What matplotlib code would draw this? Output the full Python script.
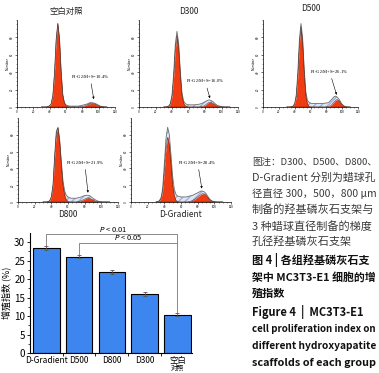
import matplotlib
matplotlib.use("Agg")
import matplotlib.pyplot as plt
import numpy as np

plt.rcParams['font.family'] = ['Noto Sans CJK SC', 'DejaVu Sans']

# ---- flow cytometry histograms (channel grid 30..110, step 2; y in % of axis) ----
CH = [30, 32, 34, 36, 38, 40, 42, 44, 46, 48, 50, 52, 54, 56, 58, 60, 62, 64, 66, 68, 70,
      72, 74, 76, 78, 80, 82, 84, 86, 88, 90, 92, 94, 96, 98, 100, 102, 104, 106, 108, 110]

blank_total = [0, 0, 0, 0, 0.5, 1.5, 4, 14, 40, 78, 96, 78, 40, 14, 5, 2.5,
               1.5, 1.2, 1, 1, 1, 1, 1, 1.2, 1.5, 2, 2.5, 3, 3.5, 4.5, 5, 5, 4.5, 4, 3, 2, 1,
               0.5, 0.2, 0, 0]
blank_g1 = [0, 0, 0, 0, 0.5, 1.5, 4, 14, 40, 78, 96, 78, 40, 14, 4.5, 1.5, 0.4, 0.1] + [0] * 23
blank_g2 = [0] * 25 + [0.5, 1, 1.8, 2.6, 3.4, 4, 4.2, 3.8, 3, 2.2, 1.4, 0.7, 0.3, 0.1, 0, 0]

d300_total = [0, 0, 0.3, 1, 4, 14, 38, 72, 87, 74, 42, 17, 7, 4, 3, 2.5] + [2.5] * 4 + \
             [3, 3, 3.5, 4, 5, 6, 7, 8, 8, 7, 6, 4, 2.5, 1.5, 1, 0.5, 0.2] + [0] * 4
d300_g1 = [0, 0, 0.3, 1, 3.5, 12, 34, 67, 82, 69, 38, 14, 4.5, 1.5, 0.5] + [0] * 26
d300_g2 = [0] * 23 + [0.5, 1, 2, 3.5, 5, 5.5, 5, 4, 2.5, 1.5, 0.8, 0.3] + [0] * 6

d500_total = [0, 0, 0, 0.3, 1, 4, 14, 40, 78, 96, 80, 44, 18, 8, 5.5, 4.5] + [4] * 8 + \
             [4.5, 4.5, 5, 6, 8, 10, 12, 12.5, 11, 9, 6, 3, 1.5, 0.5] + [0] * 3
d500_g1 = [0, 0, 0, 0.3, 1, 3.5, 12, 36, 73, 92, 75, 40, 14, 4, 1, 0.3] + [0] * 25
d500_g2 = [0] * 26 + [0.5, 1, 2, 4, 6, 8, 8.5, 7, 4.5, 2.5, 1, 0.3] + [0] * 3

d800_total = [0, 0, 0, 0.3, 1.5, 6, 20, 55, 84, 89, 74, 48, 25, 13, 8, 6] + \
             [5, 4.5, 4.5, 4.5, 4.5, 5, 5.5, 6, 7, 7.5, 8, 8, 7.5, 6, 4.5, 3, 2, 1, 0.5, 0.2] + [0] * 5
d800_g1 = [0, 0, 0, 0.3, 1.5, 6, 20, 54, 83, 88, 72, 44, 20, 8, 2.5, 0.8] + [0] * 25
d800_g2 = [0] * 21 + [0.5, 1, 1.5, 2.5, 3.5, 4.5, 5, 4.5, 3.5, 2.5, 1.5, 0.8, 0.3] + [0] * 7

grad_total = [0, 0.3, 1.5, 5, 16, 45, 76, 89, 80, 56, 30, 15, 9, 7, 6.5, 6] + \
             [6, 6, 6, 6.5, 7, 7.5, 8, 9, 10, 11, 12, 13, 13, 12, 10, 7, 4, 2, 1, 0.5, 0.2] + [0] * 4
grad_g1 = [0, 0.3, 1.2, 4, 13, 37, 65, 77, 68, 45, 20, 7, 2, 0.5] + [0] * 27
grad_g2 = [0] * 20 + [0.5, 1, 2, 3, 4.5, 6, 7.5, 9, 10, 9.5, 8, 5.5, 3, 1.5, 0.5] + [0] * 6

panel_titles = ["空白对照", "D300", "D500", "D800", "D-Gradient"]
panel_pct = ["10.4", "16.0", "26.1", "21.9", "28.4"]

# ---- bar chart ----
groups = ["D-Gradient", "D500", "D800", "D300", "空白"]
prolif = [28.4, 26.1, 21.9, 16.0, 10.4]
prolif_err = [0.6, 0.4, 0.5, 0.6, 0.3]

caption = [
    ("图注：D300、D500、D800、", "normal", "#3a3a3a"),
    ("D-Gradient 分别为蜡球孔", "normal", "#3a3a3a"),
    ("径直径 300，500，800 μm", "normal", "#3a3a3a"),
    ("制备的羟基磷灰石支架与", "normal", "#3a3a3a"),
    ("3 种蜡球直径制备的梯度", "normal", "#3a3a3a"),
    ("孔径羟基磷灰石支架", "normal", "#3a3a3a"),
    ("图 4 | 各组羟基磷灰石支", "bold", "#111111"),
    ("架中 MC3T3-E1 细胞的增", "bold", "#111111"),
    ("殖指数", "bold", "#111111"),
    ("Figure 4  |  MC3T3-E1", "bold", "#111111"),
    ("cell proliferation index on", "bold", "#111111"),
    ("different hydroxyapatite", "bold", "#111111"),
    ("scaffolds of each group", "bold", "#111111"),
]
caption_y = [162, 178, 194, 210, 226, 242, 260, 277, 293, 312, 329, 346, 363]

W, H = 379, 373
fig = plt.figure(figsize=(W / 100, H / 100), dpi=100)


def px_axes(left, top, right, bottom):
    return fig.add_axes([left / W, 1 - bottom / H, (right - left) / W, (bottom - top) / H])


def draw_hist(ax, total, g1, g2, title, pct, txt_xy, tip_xy, title_y):
    ax.fill_between(CH, total, color='#dfe6f5', lw=0, hatch='/////', edgecolor='#9fb2dc')
    ax.plot(CH, total, color='#6e6e6e', lw=0.6)
    ax.fill_between(CH, g1, color='#f03c10', lw=0)
    ax.fill_between(CH, g2, color='#f03c10', lw=0)
    ax.plot(CH, g1, color='#4a1a0a', lw=0.3)
    ax.plot(CH, g2, color='#4a1a0a', lw=0.3)
    ax.set_xlim(0, 120)
    ax.set_ylim(0, 100)
    ax.set_xticks([0, 20, 40, 60, 80, 100, 120])
    ax.set_xticks(range(0, 121, 5), minor=True)
    ax.set_yticks([0, 20, 40, 60, 80])
    ax.set_yticks(range(0, 101, 5), minor=True)
    ax.tick_params(labelsize=2.2, length=1.2, width=0.4, pad=0.8)
    ax.tick_params(which='minor', length=0.7, width=0.3)
    for lab in ax.get_yticklabels():
        lab.set_rotation(90)
        lab.set_va('center')
    ax.set_ylabel("Number", fontsize=2.3, labelpad=0.5, family='DejaVu Sans')
    for s in ['top', 'right']:
        ax.spines[s].set_visible(False)
    for s in ['left', 'bottom']:
        ax.spines[s].set_linewidth(0.5)
    ax.annotate("PI-G$_2$/M+S=" + pct + "%", xy=tip_xy, xytext=txt_xy,
                fontsize=3.3, family='Liberation Serif', ha='left', va='bottom',
                arrowprops=dict(arrowstyle='-|>', color='black', lw=0.4,
                                mutation_scale=3, shrinkA=0, shrinkB=0))
    ax.text(0.5, title_y, title, transform=ax.transAxes, ha='center', va='center',
            fontsize=6, color='#222222')


ax1 = px_axes(17, 20, 115, 107)
draw_hist(ax1, blank_total, blank_g1, blank_g2, panel_titles[0], panel_pct[0],
          (66, 30), (94, 9), 1.1)
ax2 = px_axes(139, 20, 238, 107)
draw_hist(ax2, d300_total, d300_g1, d300_g2, panel_titles[1], panel_pct[1],
          (57, 25), (86, 10), 1.1)
ax3 = px_axes(263, 20, 358, 107)
draw_hist(ax3, d500_total, d500_g1, d500_g2, panel_titles[2], panel_pct[2],
          (60, 36), (93, 14), 1.13)
ax4 = px_axes(18, 118, 118, 202)
draw_hist(ax4, d800_total, d800_g1, d800_g2, panel_titles[3], panel_pct[3],
          (57, 42), (84, 11), -0.15)
ax5 = px_axes(131, 118, 231, 202)
draw_hist(ax5, grad_total, grad_g1, grad_g2, panel_titles[4], panel_pct[4],
          (57, 42), (85, 16), -0.15)

# ---- bar chart ----
axb = px_axes(30, 233, 192, 353)
x = np.arange(len(groups))
axb.bar(x, prolif, width=0.81, color='#3d86ef', edgecolor='black', linewidth=0.8,
        yerr=prolif_err, error_kw=dict(ecolor='#555555', elinewidth=0.6, capsize=1.5, capthick=0.6))
axb.set_xlim(-0.5, 4.45)
axb.set_ylim(0, 32.5)
axb.set_yticks([0, 5, 10, 15, 20, 25, 30])
axb.set_yticks(np.arange(0, 32.5, 2.5), minor=True)
axb.set_xticks(x)
axb.set_xticks(x[:-1] + 0.5, minor=True)
axb.set_xticklabels(groups)
axb.tick_params(axis='y', labelsize=7, length=2.5, width=0.6, pad=1)
axb.tick_params(axis='y', which='minor', length=1.5, width=0.5)
axb.tick_params(axis='x', labelsize=6, length=0, pad=2)
axb.tick_params(axis='x', which='minor', length=2.5, width=0.6)
for s in ['top', 'right']:
    axb.spines[s].set_visible(False)
for s in ['left', 'bottom']:
    axb.spines[s].set_linewidth(0.8)
axb.set_ylabel("增殖指数 (%)", fontsize=6.5, labelpad=2)
axb.text(4, -0.125, "对照", transform=axb.get_xaxis_transform(), ha='center', va='center',
         fontsize=4.8)

# significance brackets
gray = '#8a8a8a'
y01, y05 = 32.1, 29.9
axb.plot([0, 0, 4, 4], [prolif[0] + prolif_err[0] + 0.2, y01, y01, prolif[4] + prolif_err[4] + 0.3],
         color=gray, lw=0.7, clip_on=False)
axb.plot([1, 1, 4], [prolif[1] + prolif_err[1] + 0.2, y05, y05], color=gray, lw=0.7, clip_on=False)
axb.text(2.03, y01 + 0.05, "$P$ < 0.01", ha='center', va='bottom', fontsize=5.4, clip_on=False)
axb.text(2.49, y05 + 0.05, "$P$ < 0.05", ha='center', va='bottom', fontsize=5.4, clip_on=False)

# ---- caption text (shrunk to fit the column 252..376 px) ----
renderer = fig.canvas.get_renderer()
for (line, weight, col), yy in zip(caption, caption_y):
    t = fig.text(252 / W, 1 - yy / H, line, fontsize=8, fontweight=weight, color=col,
                 ha='left', va='center')
    w = t.get_window_extent(renderer).width
    if w > 124:
        t.set_fontsize(8 * 124 / w)

fig.savefig("out.png", dpi=100)
